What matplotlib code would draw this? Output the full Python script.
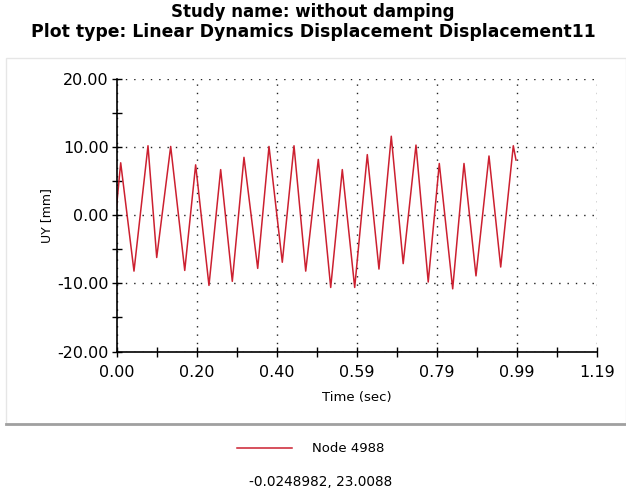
import numpy as np
import matplotlib
matplotlib.use("Agg")
from matplotlib import pyplot as plt
from matplotlib.patches import Rectangle

# UY response of node 4988 at its turning points
time = [0.0, 0.0104, 0.0433, 0.078, 0.0996, 0.1342, 0.169, 0.196, 0.229,
        0.258, 0.2868, 0.3157, 0.3497, 0.3777, 0.4106, 0.4396, 0.4686,
        0.4998, 0.5305, 0.5592, 0.5899, 0.6211, 0.650, 0.6805, 0.710,
        0.7417, 0.772, 0.7994, 0.8326, 0.8606, 0.8903, 0.9225, 0.9515,
        0.9827, 0.9894]
uy = [1.2, 7.7, -8.2, 10.2, -6.2, 10.1, -8.1, 7.4, -10.3,
      6.7, -9.7, 8.5, -7.8, 10.1, -6.9, 10.2, -8.2,
      8.2, -10.6, 6.7, -10.6, 8.9, -7.9, 11.6, -7.1,
      10.3, -9.8, 7.6, -10.8, 7.6, -8.9, 8.7, -7.6,
      10.2, 8.1]

xticks = [0.0, 1.19 / 6, 2 * 1.19 / 6, 3 * 1.19 / 6, 4 * 1.19 / 6, 5 * 1.19 / 6, 1.19]
xlabels = ["0.00", "0.20", "0.40", "0.59", "0.79", "0.99", "1.19"]
yticks = [-20, -10, 0, 10, 20]

plt.rcParams['font.family'] = ['DejaVu Sans']

fig = plt.figure(figsize=(6.26, 5.0), dpi=100)

# panel frame
fig.patches.append(Rectangle((6 / 626, 1 - 424 / 500), 1 - 6 / 626, (424 - 58) / 500,
                             transform=fig.transFigure, fill=False,
                             edgecolor="#e6e6e6", linewidth=1.0))
fig.add_artist(plt.Line2D([6 / 626, 1], [1 - 424 / 500] * 2, transform=fig.transFigure,
                          color="#a0a0a0", linewidth=2))

fig.text(0.5, 1 - 12 / 500, "Study name: without damping", ha="center", va="center",
         fontsize=12, fontweight="bold")
fig.text(0.5, 1 - 32 / 500, "Plot type: Linear Dynamics Displacement Displacement11",
         ha="center", va="center", fontsize=12.4, fontweight="bold")

ax = fig.add_axes([116.5 / 626, 1 - 351.5 / 500, (597 - 116.5) / 626, (351.5 - 79) / 500])
ax.plot(time, uy, color="#cc2030", linewidth=1.1, label="Node 4988")

ax.set_xlim(0, 1.19)
ax.set_ylim(-20, 20)
ax.set_xticks(xticks)
ax.set_xticklabels(xlabels)
ax.set_yticks(yticks)
ax.set_yticklabels(["%.2f" % v for v in yticks])
ax.set_xticks([(xticks[i] + xticks[i + 1]) / 2 for i in range(6)], minor=True)
ax.set_yticks([-15, -5, 5, 15], minor=True)
ax.tick_params(which="both", direction="inout", length=7, width=1, labelsize=11.5, pad=2)
ax.tick_params(axis="x", pad=6)
ax.grid(True, which="major", linestyle=(0, (1, 5)), color="#202020", linewidth=1)
ax.spines["top"].set_visible(False)
ax.spines["right"].set_visible(False)
ax.spines["left"].set_linewidth(1.2)
ax.spines["bottom"].set_linewidth(1.2)
ax.set_xlabel("Time (sec)", fontsize=9.5, labelpad=8)
ax.set_ylabel("UY [mm]", fontsize=9, labelpad=3)

fig.legend(loc="center left", bbox_to_anchor=(236.7 / 626, 1 - 449 / 500), frameon=False,
           fontsize=9.5, handlelength=4.2, handletextpad=1.5, borderpad=0, borderaxespad=0)
fig.text(321 / 626, 1 - 482 / 500, "-0.0248982, 23.0088", ha="center", va="center",
         fontsize=9.8)

fig.savefig("out.png", dpi=100)
